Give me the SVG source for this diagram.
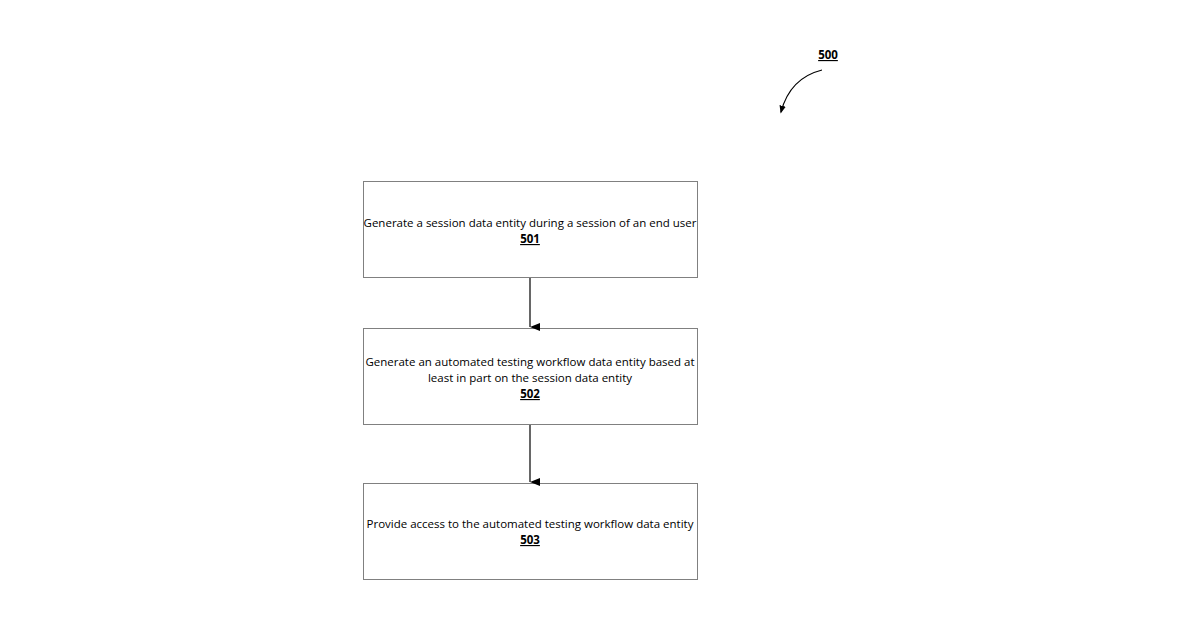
<svg xmlns="http://www.w3.org/2000/svg" width="1200" height="630" viewBox="0 0 1200 630">
<style>
.box{fill:#fff;stroke:#808080;stroke-width:1}
.t{font-family:"Open Sans","Liberation Sans",sans-serif;font-size:11.5px;fill:#000;text-anchor:middle}
.b{font-weight:bold;text-decoration:underline}
.c{stroke:#000;stroke-width:1.2;fill:none}
</style>
<defs><marker id="ah" markerWidth="8" markerHeight="10" refX="4" refY="10" orient="auto" markerUnits="userSpaceOnUse" viewBox="0 0 8 10"><path d="M0,0 L8,0 L4,10 Z" fill="#000"/></marker>
<marker id="ah2" markerWidth="8" markerHeight="10" refX="8" refY="4" orient="auto" markerUnits="userSpaceOnUse" viewBox="0 0 10 8"><path d="M0,0 L10,4 L0,8 Z" fill="#000"/></marker></defs>
<rect width="1200" height="630" fill="#fff"/>
<g id="label500"><text class="t b" x="828" y="59">500</text>
<path class="c" d="M822,70 Q790,78 781,112" marker-end="url(#ah2)"/></g>
<g id="n501"><rect class="box" x="363.5" y="181.5" width="334" height="96"/>
<text class="t" x="530" y="227">Generate a session data entity during a session of an end user</text>
<text class="t b" x="530" y="243">501</text></g>
<g id="n502"><rect class="box" x="363.5" y="328.5" width="334" height="96"/>
<text class="t" x="530" y="366">Generate an automated testing workflow data entity based at</text>
<text class="t" x="530" y="382">least in part on the session data entity</text>
<text class="t b" x="530" y="398">502</text></g>
<g id="n503"><rect class="box" x="363.5" y="483.5" width="334" height="96"/>
<text class="t" x="530" y="528">Provide access to the automated testing workflow data entity</text>
<text class="t b" x="530" y="544">503</text></g>
<g id="connectors">
<path class="c" d="M530,278 V327" marker-end="url(#ah)"/>
<path class="c" d="M530,425 V482" marker-end="url(#ah)"/>
</g>
</svg>
